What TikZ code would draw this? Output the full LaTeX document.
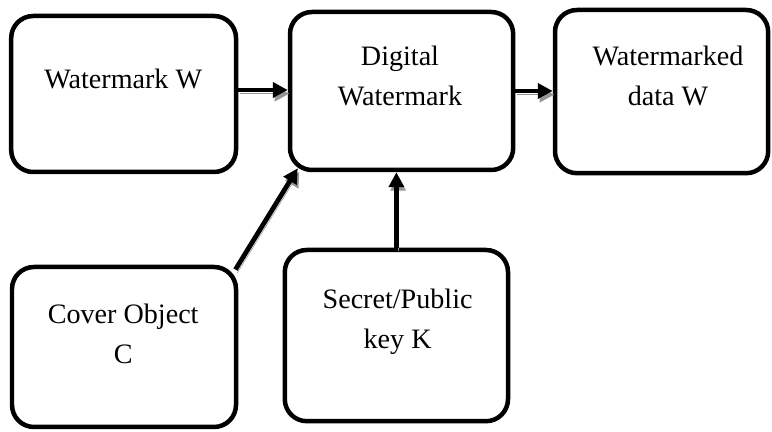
\documentclass[tikz,border=0pt]{standalone}
\usepackage{fontspec}
\setmainfont{Liberation Serif}
\usetikzlibrary{arrows.meta,positioning}
\definecolor{shadowgray}{RGB}{150,150,150}
\tikzset{
    % Block and connector styles
    procbox/.style={
        rectangle, draw=black, line width=3.2pt, fill=white,
        rounded corners=0.55cm
    },
    boxtext/.style={
        align=center, font=\fontsize{20}{28.5}\selectfont
    },
    flowarrow/.style={
        line width=3.4pt, -{Triangle[length=0.37cm,width=0.37cm]},
        preaction={draw=shadowgray, transform canvas={shift={(1.2pt,-2.6pt)}}}
    }
}

\begin{document}
\begin{tikzpicture}

\useasboundingbox (0,0) rectangle (19.3,10.8);

% Top row
\node[procbox, minimum width=5.62cm, minimum height=3.9cm] (wm) at (3.09,8.45) {};
\node[procbox, minimum width=5.58cm, minimum height=3.95cm] (dw) at (10.04,8.525) {};
\node[procbox, minimum width=5.33cm, minimum height=4.08cm] (wd) at (16.54,8.51) {};

% Bottom row
\node[procbox, minimum width=5.6cm, minimum height=4.0cm] (cov) at (3.1,2.125) {};
\node[procbox, minimum width=5.58cm, minimum height=4.28cm] (key) at (9.91,2.41) {};

% Labels
\node[boxtext] (wm-txt) at (3.08,8.83) {Watermark W};
\node[boxtext] (dw-txt) at (10.0,8.9) {Digital\\Watermark};
\node[boxtext] (wd-txt) at (16.7,8.9) {Watermarked\\data W};
\node[boxtext] (cov-txt) at (3.08,2.46) {Cover Object\\C};
\node[boxtext] (key-txt) at (9.94,2.75) {Secret/Public\\key K};

% Connectors
\coordinate (cov-out) at ([shift={(-0.07,-0.12)}]cov.north east);
\coordinate (dw-in) at ([shift={(0.25,0.1)}]dw.south west);
\draw[flowarrow] ([yshift=0.1cm]wm.east) -- ([yshift=0.1cm]wm.east -| dw.west);
\draw[flowarrow] (dw.east) -- (dw.east -| wd.west);
\draw[flowarrow] (cov-out) -- (dw-in);
\draw[flowarrow] (key.north) -- (key.north |- dw.south);

\end{tikzpicture}
\end{document}
